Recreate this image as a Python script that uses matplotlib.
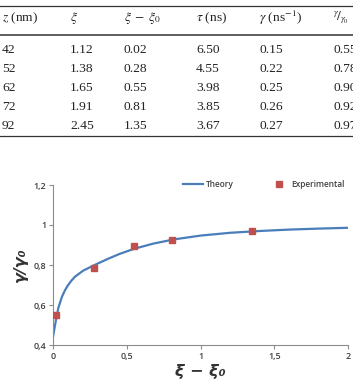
import numpy as np
import matplotlib
matplotlib.use("Agg")
import matplotlib.pyplot as plt
from matplotlib.lines import Line2D

plt.rcParams["mathtext.fontset"] = "stix"

# Table values
col_headers = [r"$z$ (nm)", r"$\xi$", r"$\xi\;-\;\xi_0$", r"$\tau$ (ns)",
               r"$\gamma$ (ns$^{-1}$)", r"$^{\gamma}\!/_{\gamma_0}$"]
z_nm = ["42", "52", "62", "72", "92"]
xi = ["1.12", "1.38", "1.65", "1.91", "2.45"]
xi_shift = ["0.02", "0.28", "0.55", "0.81", "1.35"]
tau_ns = ["6.50", "4.55", "3.98", "3.85", "3.67"]
gamma = ["0.15", "0.22", "0.25", "0.26", "0.27"]
gamma_ratio = ["0.55", "0.78", "0.90", "0.92", "0.97"]

# Chart values
exp_x = [0.02, 0.28, 0.55, 0.81, 1.35]
exp_y = [0.55, 0.785, 0.895, 0.925, 0.97]
theory_x = [0.0, 0.007, 0.02, 0.036, 0.06, 0.08, 0.1, 0.125, 0.15, 0.205, 0.285,
            0.37, 0.45, 0.55, 0.68, 0.82, 1.0, 1.2, 1.4, 1.6, 1.8, 2.0]
theory_y = [0.44, 0.47, 0.525, 0.585, 0.64, 0.672, 0.697, 0.722, 0.742, 0.772, 0.801,
            0.83, 0.855, 0.881, 0.907, 0.928, 0.947, 0.961, 0.970, 0.977, 0.982, 0.986]

W, H = 353, 386
fig = plt.figure(figsize=(W / 100, H / 100), dpi=100)


def fx(px):
    return px / W


def fy(py):
    return 1 - py / H


# --- table ---
col_x = [2, 70, 124, 196, 259, 333]
tfont = dict(family="Liberation Serif", size=9.7, color="#222222", va="center", ha="left")
for cx, head in zip(col_x, col_headers):
    fig.text(fx(cx), fy(18), head, **tfont)
row_y = [50, 69, 88, 107, 126]
columns = [z_nm, xi, xi_shift, tau_ns, gamma, gamma_ratio]
for cx, col in zip(col_x, columns):
    for ry, val in zip(row_y, col):
        fig.text(fx(cx), fy(ry), val, **tfont)
for ry, lw in [(6, 0.9), (35, 1.1), (136, 0.9)]:
    fig.add_artist(Line2D([0, 1], [fy(ry), fy(ry)], color="#333333", lw=lw))

# --- chart ---
ax = fig.add_axes([fx(53), fy(345), fx(348) - fx(53), fy(185) - fy(345)])
ax.plot(theory_x, theory_y, color="#4A7EBB", lw=1.6, label="Theory", zorder=2)
ax.plot(exp_x, exp_y, ls="none", marker="s", ms=5, color="#C0504D",
        label="Experimental", zorder=3)

ax.set_xlim(0, 2)
ax.set_ylim(0.4, 1.2)
ax.set_xticks([0, 0.5, 1, 1.5, 2])
ax.set_xticklabels(["0", "0,5", "1", "1,5", "2"])
ax.set_yticks([0.4, 0.6, 0.8, 1.0, 1.2])
ax.set_yticklabels(["0,4", "0,6", "0,8", "1", "1,2"])
for s in ["top", "right"]:
    ax.spines[s].set_visible(False)
for s in ["left", "bottom"]:
    ax.spines[s].set_color("#8c8c8c")
    ax.spines[s].set_linewidth(0.8)
ax.tick_params(colors="#8c8c8c", length=3, width=0.8, labelsize=6.5,
               labelcolor="#404040", pad=2)
for lab in ax.get_xticklabels() + ax.get_yticklabels():
    lab.set_fontfamily("Open Sans")
    lab.set_fontweight("semibold")

lbl = dict(family="DejaVu Sans", fontsize=11.5, fontweight="bold", fontstyle="italic",
           color="#333333")
ax.set_xlabel("ξ − ξ₀", labelpad=2, **lbl)
ax.set_ylabel("γ/γ₀", labelpad=4, **lbl)

leg = ax.legend(loc="center", bbox_to_anchor=(0.715, 1.006), ncol=2, frameon=False,
                prop={"family": "Open Sans", "size": 6, "weight": "semibold"},
                handlelength=2.4, columnspacing=4.2, handletextpad=0.3, borderpad=0)
for t in leg.get_texts():
    t.set_color("#404040")

fig.savefig("out.png", dpi=100, facecolor="white")
